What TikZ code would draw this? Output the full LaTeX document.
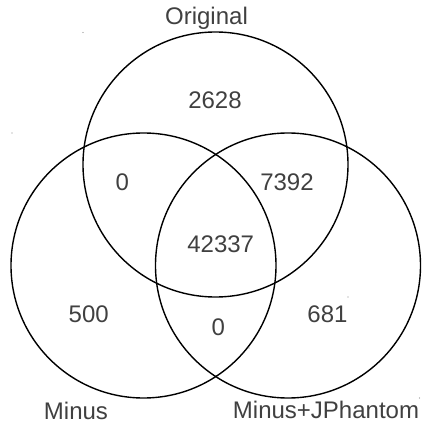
\documentclass[tikz,border=0pt]{standalone}
\usepackage{fontspec}
\setmainfont{Liberation Sans}
\begin{document}
\begin{tikzpicture}[x=1pt,y=-1pt,
  setring/.style={circle,draw=black,line width=1.4pt,minimum size=265pt,inner sep=0pt},
  count/.style={text=black!75,font=\fontsize{24}{28}\selectfont,inner sep=0pt},
  setname/.style={text=black!75,font=\fontsize{24}{28}\selectfont,inner sep=0pt,anchor=base},
  speck/.style={fill=black!45}]
\useasboundingbox (0,0) rectangle (424,423);
% the three sets
\node[setring] (orig)  at (215.5,164.5) {};
\node[setring] (minus) at (143.5,265.5) {};
\node[setring] (jph)   at (288,265.5) {};
% set names
\node[setname] (lorig)  at (206.5,24)   {Original};
\node[setname] (lminus) at (76,419)     {Minus};
\node[setname] (ljph)   at (326,418.3)  {Minus+JPhantom};
% region counts
\node[count] (c1) at (215,100)    {2628};
\node[count] (c2) at (122.3,182)  {0};
\node[count] (c3) at (287,182.6)  {7392};
\node[count] (c4) at (220.7,244.5){42337};
\node[count] (c5) at (88.7,314)   {500};
\node[count] (c6) at (218.3,327)  {0};
\node[count] (c7) at (327.5,314.5){681};
% stray marks
\foreach \p in {(83,32.5),(12,133),(348,297),(419.5,398),(269,226),(249,348)}
  \fill[speck] \p circle (0.6);
\end{tikzpicture}
\end{document}
